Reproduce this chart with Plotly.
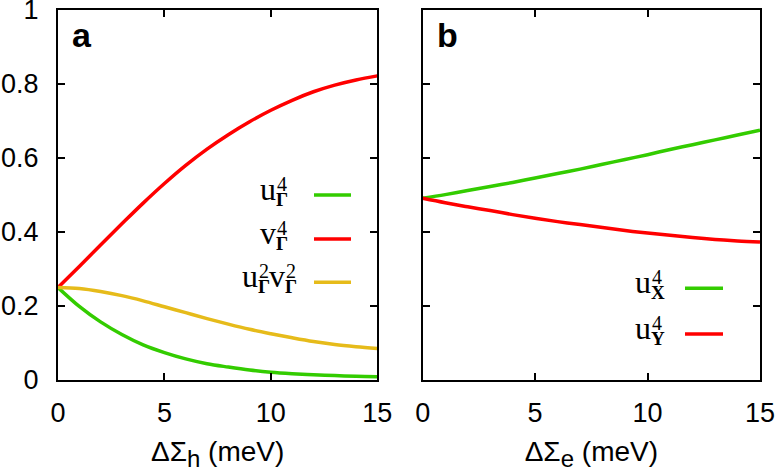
import plotly.graph_objects as go

# values
delta_h = [0, 1, 2, 3, 4, 5, 6, 7, 8, 9, 10, 11, 12, 13, 14, 15]
u4_gamma = [0.250, 0.199, 0.157, 0.123, 0.095, 0.074, 0.057, 0.044, 0.035, 0.027,
            0.021, 0.017, 0.014, 0.012, 0.010, 0.009]
v4_gamma = [0.250, 0.307, 0.365, 0.422, 0.478, 0.531, 0.580, 0.624, 0.663, 0.698,
            0.729, 0.756, 0.779, 0.797, 0.811, 0.822]
u2v2_gamma = [0.250, 0.247, 0.239, 0.228, 0.214, 0.198, 0.182, 0.166, 0.151, 0.137,
              0.125, 0.114, 0.104, 0.096, 0.090, 0.085]

delta_e = [0, 1, 2, 3, 4, 5, 6, 7, 8, 9, 10, 11, 12, 13, 14, 15]
u4_x = [0.491, 0.501, 0.512, 0.523, 0.534, 0.546, 0.558, 0.570, 0.583, 0.596,
        0.609, 0.623, 0.636, 0.649, 0.662, 0.675]
u4_y = [0.491, 0.479, 0.468, 0.458, 0.447, 0.437, 0.428, 0.420, 0.412, 0.404,
        0.397, 0.391, 0.385, 0.380, 0.376, 0.373]

x_ticks = [0, 5, 10, 15]
y_ticks = [0, 0.2, 0.4, 0.6, 0.8, 1]

GREEN = '#33cc00'
RED = '#ff0000'
GOLD = '#e6bb1a'

SANS = 'Liberation Sans, Arial, sans-serif'
SERIF = 'Liberation Serif, Times New Roman, serif'

# page geometry (pixels)
W, H = 781, 472
ML, MR, MT, MB = 58, 21, 10, 92
PW = W - ML - MR
PH = H - MT - MB


def px(x):
    return (x - ML) / PW


def py(y):
    return (H - MB - y) / PH


fig = go.Figure()

for xs, ys, col in [(delta_h, u4_gamma, GREEN), (delta_h, v4_gamma, RED),
                    (delta_h, u2v2_gamma, GOLD)]:
    fig.add_trace(go.Scatter(x=xs, y=ys, mode='lines', xaxis='x', yaxis='y',
                             line=dict(color=col, width=3.5, shape='spline'),
                             showlegend=False, hoverinfo='skip'))

for xs, ys, col in [(delta_e, u4_x, GREEN), (delta_e, u4_y, RED)]:
    fig.add_trace(go.Scatter(x=xs, y=ys, mode='lines', xaxis='x2', yaxis='y2',
                             line=dict(color=col, width=3.5, shape='spline'),
                             showlegend=False, hoverinfo='skip'))

axis_common = dict(
    showline=True, linecolor='black', linewidth=2, mirror='ticks',
    ticks='inside', ticklen=7, tickwidth=1.5, tickcolor='black',
    showgrid=False, zeroline=False, ticklabeloverflow='allow',
    tickfont=dict(family=SANS, size=27, color='black'),
)
title_font = dict(family=SANS, size=28, color='black')
sub_style = '<sub><span style="font-size:24px">%s</span></sub>'

fig.update_layout(
    width=W, height=H,
    margin=dict(l=ML, r=MR, t=MT, b=MB, autoexpand=False),
    plot_bgcolor='white', paper_bgcolor='white',
    xaxis=dict(domain=[0, px(377.3)], range=[0, 15], tickvals=x_ticks,
               title=dict(text='ΔΣ' + sub_style % 'h' + ' (meV)', standoff=17,
                          font=title_font),
               ticklabelstandoff=8, **axis_common),
    yaxis=dict(domain=[0, 1], range=[0, 1], tickvals=y_ticks,
               ticklabelstandoff=12, **axis_common),
    xaxis2=dict(domain=[px(422.7), 1], range=[0, 15], tickvals=x_ticks, anchor='y2',
                title=dict(text='ΔΣ' + sub_style % 'e' + ' (meV)', standoff=17,
                           font=title_font),
                ticklabelstandoff=8, **axis_common),
    yaxis2=dict(domain=[0, 1], range=[0, 1], tickvals=y_ticks, anchor='x2',
                showticklabels=False, **axis_common),
)

# panel letters
for letter, x0 in [('a', 70), ('b', 435)]:
    fig.add_annotation(text='<b>%s</b>' % letter, xref='paper', yref='paper',
                       x=px(x0), y=py(14), xanchor='left', yanchor='top',
                       showarrow=False, font=dict(family=SANS, size=34, color='black'))


def add_term(x_left, row_y, base, sub, sup, base_w=16):
    # base letter with stacked subscript / superscript, gnuplot style
    fig.add_annotation(text=base, xref='paper', yref='paper',
                       x=px(x_left), y=py(row_y - 6), xanchor='left', yanchor='middle',
                       showarrow=False, font=dict(family=SERIF, size=32, color='black'))
    fig.add_annotation(text='<b>%s</b>' % sub, xref='paper', yref='paper',
                       x=px(x_left + base_w), y=py(row_y + 4.5), xanchor='left',
                       yanchor='middle', showarrow=False,
                       font=dict(family=SERIF, size=19, color='black'))
    fig.add_annotation(text=sup, xref='paper', yref='paper',
                       x=px(x_left + base_w + 1), y=py(row_y - 11.5), xanchor='left',
                       yanchor='middle', showarrow=False,
                       font=dict(family=SERIF, size=20, color='black'))


def add_sample(x0, x1, row_y, col):
    fig.add_shape(type='line', xref='paper', yref='paper',
                  x0=px(x0), x1=px(x1), y0=py(row_y), y1=py(row_y),
                  line=dict(color=col, width=3.5))


# key of panel a
add_term(258, 195, 'u', 'Γ', '4')
add_sample(314, 351, 195, GREEN)
add_term(258, 239, 'v', 'Γ', '4')
add_sample(314, 351, 239, RED)
add_term(240, 282.3, 'u', 'Γ', '2')
add_term(267, 282.3, 'v', 'Γ', '2')
add_sample(314, 351, 282.3, GOLD)

# key of panel b
add_term(633, 288.3, 'u', 'X', '4')
add_sample(685, 723, 288.3, GREEN)
add_term(633, 334, 'u', 'Y', '4')
add_sample(685, 723, 334, RED)

# the page body keeps its default 8px margin otherwise
fig.write_html("out.html", config={'displayModeBar': False},
               post_script="document.body.style.margin='0';")
